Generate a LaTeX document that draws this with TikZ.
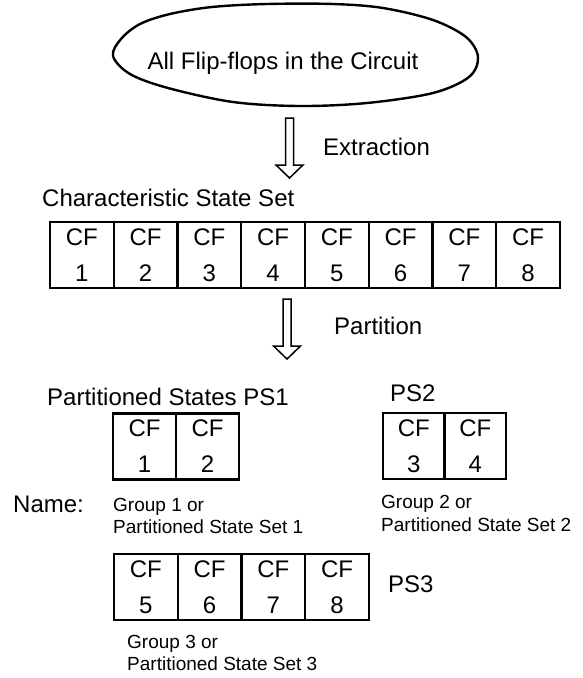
\documentclass[tikz,border=0pt]{standalone}
\usepackage{fontspec}
\setmainfont{Liberation Sans}
\begin{document}
\begin{tikzpicture}[x=1pt,y=-1pt,
  big/.style={font=\fontsize{24}{28}\selectfont, inner sep=0pt},
  small/.style={font=\fontsize{19}{22}\selectfont, inner sep=0pt, align=left},
  cell/.style={draw, line width=2.2pt, minimum width=63.75pt, minimum height=66pt,
    inner sep=0pt, align=center, font=\fontsize{24}{36}\selectfont},
  outline/.style={line width=2.4pt, line join=round},
  downarrow/.pic={\draw[line width=1.5pt, line join=miter]
    (-4,0) -- (-4,47) -- (-13.5,47) -- (0,60) -- (13.5,47) -- (4,47) -- (4,0) -- cycle;}]
\useasboundingbox (0,0) rectangle (583,678);

% hand-drawn oval around the source
\draw[outline] plot[smooth cycle, tension=0.55] coordinates {
  (113,56) (121,39) (140,24) (170,14) (212,7) (267,4) (333,4) (383,8)
  (433,20) (466,37) (478,57) (469,77) (433,93) (367,103) (300,106)
  (233,102) (168,88) (130,74)};
\node[big, anchor=base] (src) at (283,69) {All Flip-flops in the Circuit};

% extraction step
\pic at (289.5,118) {downarrow};
\node[big, anchor=base west] (ext) at (323,155) {Extraction};

% characteristic state set
\node[big, anchor=base west] (css) at (42,206) {Characteristic State Set};
\foreach \i in {1,...,8}
  \node[cell] (c\i) at ({50+63.75*(\i-0.5)},255) {CF\\\i};

% partition step
\pic at (287,299) {downarrow};
\node[big, anchor=base west] (part) at (334,334) {Partition};

% partitioned states
\node[big, anchor=base west] (ps1) at (47,405) {Partitioned States PS1};
\node[cell, minimum width=63pt] (p1a) at (144.5,446.5) {CF\\1};
\node[cell, minimum width=63pt] (p1b) at (207.5,446.5) {CF\\2};

\node[big, anchor=base west] (ps2) at (390,401) {PS2};
\node[cell, minimum width=61.5pt] (p2a) at (413.75,446) {CF\\3};
\node[cell, minimum width=61.5pt] (p2b) at (475.25,446) {CF\\4};

\node[big, anchor=base west] (name) at (13,512) {Name:};
\node[small, anchor=base west] (g1) at (113,511) {Group 1 or};
\node[small, anchor=base west] (g1b) at (113,533) {Partitioned State Set 1};
\node[small, anchor=base west] (g2) at (381,508) {Group 2 or};
\node[small, anchor=base west] (g2b) at (381,531) {Partitioned State Set 2};

\foreach \i/\k in {5/0,6/1,7/2,8/3}
  \node[cell] (q\i) at ({114+63.75*(\k+0.5)},587) {CF\\\i};
\node[big, anchor=base west] (ps3) at (388,592) {PS3};
\node[small, anchor=base west] (g3) at (127,648) {Group 3 or};
\node[small, anchor=base west] (g3b) at (127,670) {Partitioned State Set 3};
\end{tikzpicture}
\end{document}
